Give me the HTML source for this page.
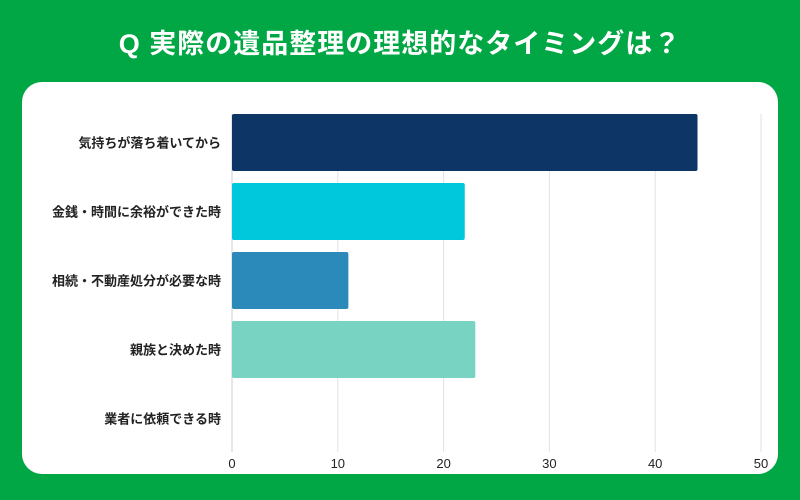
<!DOCTYPE html>
<html><head><meta charset="utf-8"><style>
body{margin:0;width:800px;height:500px;background:#00a744;font-family:"Liberation Sans","Noto Sans CJK JP",sans-serif;overflow:hidden;position:relative}
#title{position:absolute;left:0;top:22px;width:800px;text-align:center;color:#fff;font-weight:bold;font-size:27px;letter-spacing:1px}
#card{position:absolute;left:22px;top:82px;width:756px;height:392px;background:#fff;border-radius:20px}
svg{position:absolute;left:0;top:0}
</style></head><body>
<div id="title">Q 実際の遺品整理の理想的なタイミングは？</div>
<div id="card"></div>
<svg id="chart" width="800" height="500"></svg>
<script>
const categories=["気持ちが落ち着いてから","金銭・時間に余裕ができた時","相続・不動産処分が必要な時","親族と決めた時","業者に依頼できる時"];
const values=[44,22,11,23,0];
const colors=["#0d3566","#00c8dc","#2b8ab9","#79d3c2","#cccccc"];
const ticks=[0,10,20,30,40,50];
const NS="http://www.w3.org/2000/svg";
const svg=document.getElementById('chart');
const x0=232,x1=761,xMax=50,yTop=114,band=69,barH=57,gridBottom=452;
const xs=v=>x0+(x1-x0)*v/xMax;
function mk(t,a){const e=document.createElementNS(NS,t);for(const k in a)e.setAttribute(k,a[k]);svg.appendChild(e);return e;}
ticks.forEach(t=>{
 const g=mk('line',{x1:xs(t),x2:xs(t),y1:yTop,y2:gridBottom,stroke:t===0?'#cfcfcf':'#e2e2e2','stroke-width':1});
 
 
 const l=mk('text',{x:xs(t),y:468,'text-anchor':'middle','font-size':13,fill:'#222'});
 l.textContent=t;
 
 
});
categories.forEach((c,i)=>{
 const y=yTop+i*band;
 if(values[i]>0){
  const r=mk('rect',{x:x0,y:y,width:xs(values[i])-x0,height:barH,rx:2,fill:colors[i]});
  
  
 }
 const t=mk('text',{x:221,y:y+barH/2+5,'text-anchor':'end','font-size':13,'font-weight':'bold',fill:'#222'});
 t.textContent=c;
 
 
});
</script>
</body></html>
